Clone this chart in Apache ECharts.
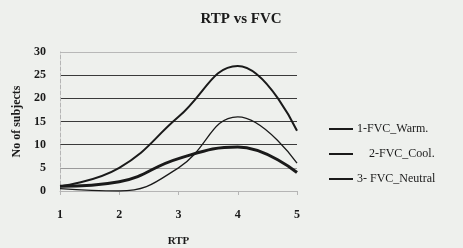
<!DOCTYPE html>
<html>
<head>
<meta charset="utf-8">
<script src="https://cdn.jsdelivr.net/npm/echarts@6/dist/echarts.min.js"></script>
<style>
  html, body { margin: 0; padding: 0; background: #eef0ed; }
  #chart { width: 463px; height: 248px; }
</style>
</head>
<body>
<div id="chart"></div>
<script>
// RTP categories and number of subjects per group
const rtp = [1, 2, 3, 4, 5];
const warm = [1, 5, 16, 27, 13];
const cool = [1, 2, 7, 9.5, 4];
const neutral = [0.5, 0, 5, 16, 6];
const names = ['1-FVC_Warm.', '    2-FVC_Cool.', '3- FVC_Neutral'];

const chart = echarts.init(document.getElementById('chart'));
const font = '"Liberation Serif", "DejaVu Serif", serif';

function pairs(vals) {
  return rtp.map((x, i) => [x, vals[i]]);
}

function line(name, vals, width) {
  return {
    name: name,
    type: 'line',
    smooth: 0.45,
    symbol: 'none',
    lineStyle: { color: '#1a1a1a', width: width },
    itemStyle: { color: '#1a1a1a' },
    data: pairs(vals)
  };
}

chart.setOption({
  backgroundColor: '#eef0ed',
  animation: false,
  title: {
    text: 'RTP vs FVC',
    left: 236,
    textAlign: 'center',
    top: 7,
    textStyle: { fontFamily: font, fontSize: 15, fontWeight: 'bold', color: '#1a1a1a' }
  },
  legend: {
    orient: 'vertical',
    left: 323,
    top: 118,
    itemGap: 13,
    itemWidth: 24,
    itemHeight: 12,
    itemStyle: { opacity: 0 },
    textStyle: { fontFamily: font, fontSize: 12, color: '#1a1a1a', padding: [0, 0, 0, -1] },
    data: names
  },
  grid: { left: 60, right: 166, top: 52, bottom: 57, outerBoundsMode: 'none' },
  xAxis: {
    type: 'value',
    min: 1,
    max: 5,
    interval: 1,
    name: 'RTP',
    nameLocation: 'middle',
    nameGap: 45,
    nameTextStyle: { fontFamily: font, fontSize: 11, fontWeight: 'bold', color: '#1a1a1a' },
    axisLine: { lineStyle: { color: '#b5b5b5' } },
    axisTick: { show: true, length: 4, lineStyle: { color: '#b5b5b5' } },
    axisLabel: { fontFamily: font, fontSize: 12, fontWeight: 'bold', color: '#1a1a1a', margin: 18 },
    splitLine: { show: false }
  },
  yAxis: {
    type: 'value',
    min: 0,
    max: 30,
    interval: 5,
    name: 'No of subjects',
    nameLocation: 'middle',
    nameGap: 30,
    nameTextStyle: { fontFamily: font, fontSize: 12, fontWeight: 'bold', color: '#1a1a1a' },
    axisLine: { show: true, lineStyle: { color: '#b5b5b5', type: 'dashed' } },
    axisTick: { show: false },
    axisLabel: { fontFamily: font, fontSize: 12, fontWeight: 'bold', color: '#1a1a1a', margin: 14 },
    splitLine: {
      lineStyle: { color: ['#9a9a9a', '#9a9a9a', '#3a3a3a', '#3a3a3a', '#3a3a3a', '#3a3a3a', '#b8b8b8'], width: 1 }
    }
  },
  series: [
    line(names[0], warm, 2),
    line(names[1], cool, 3),
    line(names[2], neutral, 1.3)
  ]
});
</script>
</body>
</html>
